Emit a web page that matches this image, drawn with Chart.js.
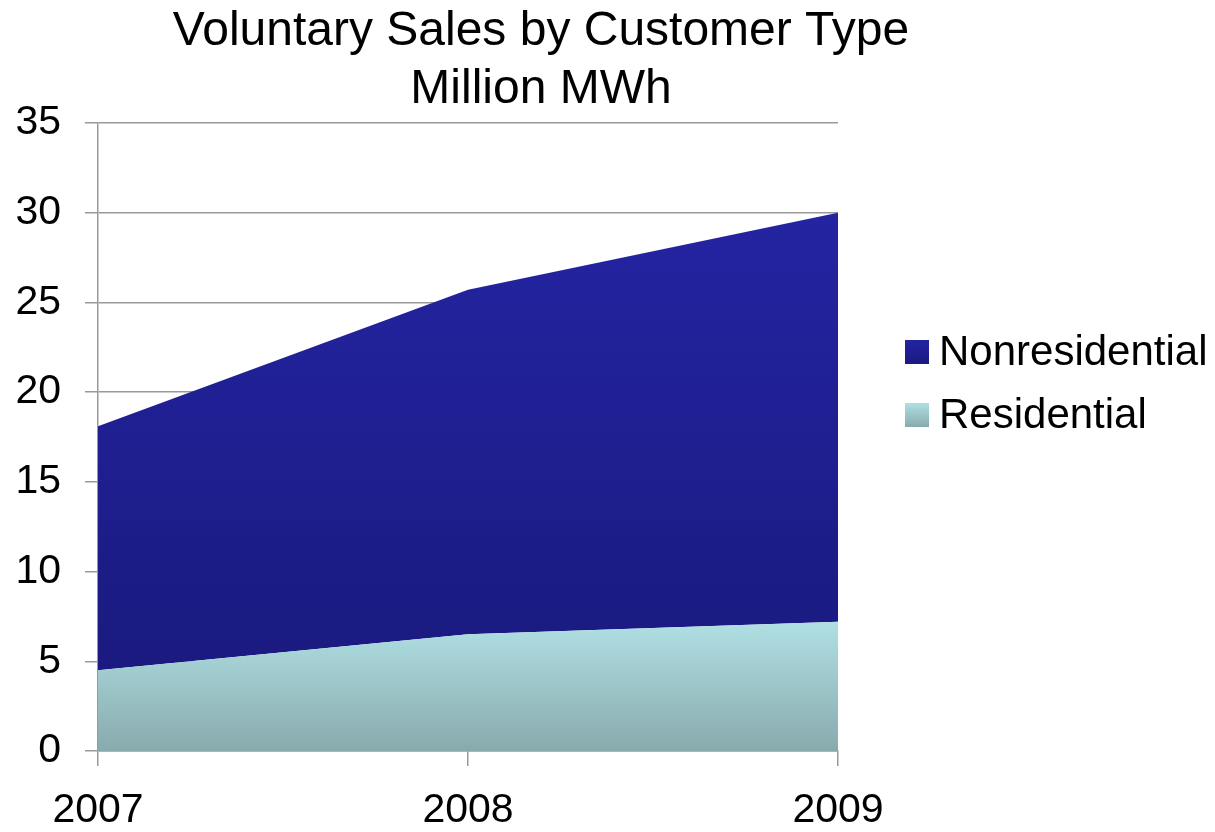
<!DOCTYPE html>
<html>
<head>
<meta charset="utf-8">
<script src="https://cdn.jsdelivr.net/npm/chart.js@4"></script>
<style>
  html, body { margin: 0; padding: 0; background: #fff; }
  #wrap { width: 1215px; height: 832px; }
</style>
</head>
<body>
<div id="wrap"><canvas id="myChart"></canvas></div>
<script>
const years = ['2007', '2008', '2009']
const residential = [4.5, 6.5, 7.2]
const nonresidential = [13.6, 19.2, 22.8]
const titleLines = ['Voluntary Sales by Customer Type', 'Million MWh']

const FONT = "'Liberation Sans', Arial, sans-serif"

// vertical gradient across the plot, from the top value down to zero
const vGrad = (ctx, top, c1, c2) => {
  const chart = ctx.chart
  const area = chart.chartArea
  if (!area) return c1
  const y = chart.scales.y
  const g = chart.ctx.createLinearGradient(0, y.getPixelForValue(top), 0, area.bottom)
  g.addColorStop(0, c1)
  g.addColorStop(1, c2)
  return g
}

const titlePlugin = {
  id: 'titleText',
  afterDraw(chart) {
    const c = chart.ctx
    c.save()
    c.fillStyle = '#000'
    c.font = '48px ' + FONT
    c.textAlign = 'center'
    c.textBaseline = 'middle'
    c.fillText(titleLines[0], 541, 32)
    c.fillText(titleLines[1], 541, 90)
    c.restore()
  }
}

const legendPlugin = {
  id: 'sideLegend',
  afterDraw(chart) {
    const c = chart.ctx
    const items = [chart.data.datasets[1], chart.data.datasets[0]]
    const tops = [340, 403]
    c.save()
    c.font = '42px ' + FONT
    c.textBaseline = 'middle'
    items.forEach((ds, i) => {
      const g = c.createLinearGradient(0, tops[i], 0, tops[i] + 24)
      g.addColorStop(0, ds.swatch[0])
      g.addColorStop(1, ds.swatch[1])
      c.fillStyle = g
      c.fillRect(905, tops[i], 24, 24)
      c.fillStyle = '#000'
      c.fillText(ds.label, 939, tops[i] + 13)
    })
    c.restore()
  }
}

new Chart(document.getElementById('myChart'), {
  type: 'line',
  data: {
    labels: years,
    datasets: [{
      label: 'Residential',
      data: residential,
      fill: 'origin',
      borderWidth: 0,
      pointRadius: 0,
      tension: 0,
      swatch: ['#b0e0e4', '#88aaad'],
      backgroundColor: ctx => vGrad(ctx, 7.2, '#b0e0e4', '#88aaad')
    }, {
      label: 'Nonresidential',
      data: nonresidential,
      fill: '-1',
      borderWidth: 0,
      pointRadius: 0,
      tension: 0,
      swatch: ['#2424a2', '#1a1a80'],
      backgroundColor: ctx => vGrad(ctx, 30, '#2424a2', '#18187a')
    }]
  },
  options: {
    responsive: true,
    maintainAspectRatio: false,
    animation: false,
    layout: { padding: { top: 123, right: 377, left: 0, bottom: 0 } },
    plugins: {
      legend: { display: false },
      title: { display: false },
      tooltip: { enabled: false }
    },
    scales: {
      x: {
        offset: false,
        grid: { drawOnChartArea: false, tickLength: 15, color: '#999', lineWidth: 1.5 },
        border: { color: '#999', width: 1.5 },
        ticks: { color: '#000', font: { family: FONT, size: 41 }, padding: 20, maxRotation: 0 },
        afterFit: s => { s.height = 81 }
      },
      y: {
        stacked: true,
        min: 0,
        max: 35,
        grid: { tickLength: 13, color: '#999', lineWidth: 1.5 },
        border: { color: '#999', width: 1.5 },
        ticks: { stepSize: 5, color: '#000', font: { family: FONT, size: 41 }, padding: 24 },
        afterFit: s => { s.width = 98 }
      }
    }
  },
  plugins: [titlePlugin, legendPlugin]
})
</script>
</body>
</html>
